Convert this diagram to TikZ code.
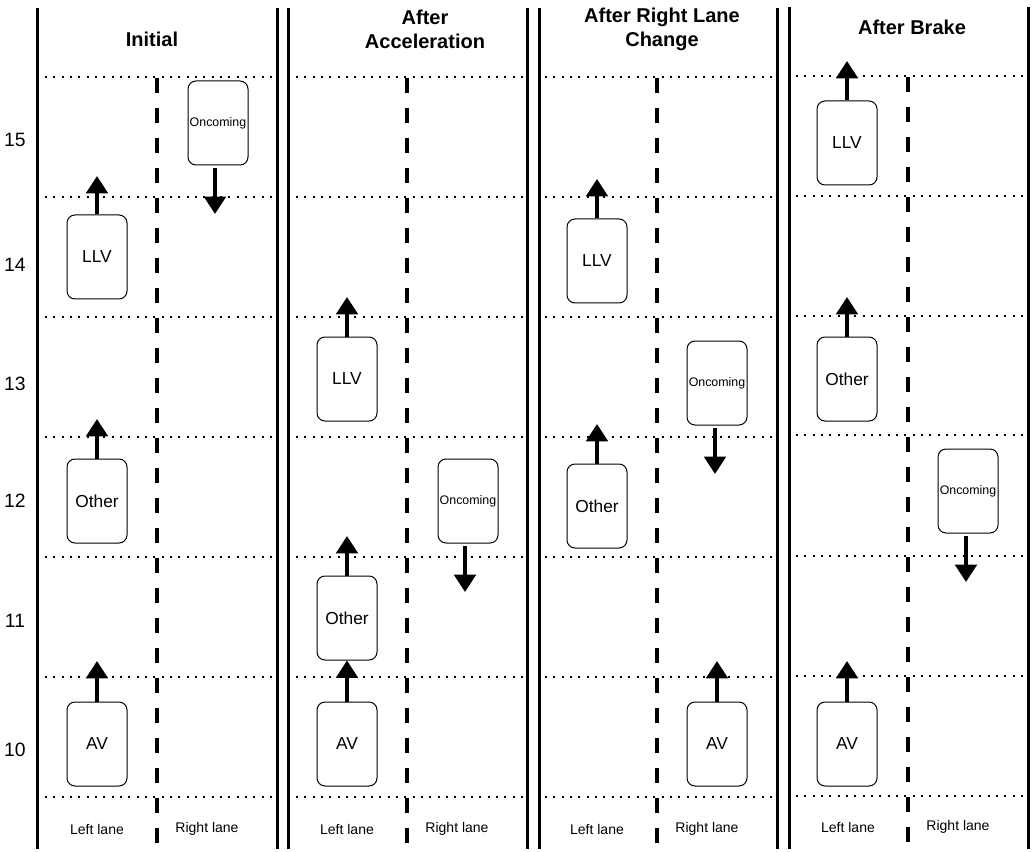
\documentclass[tikz,border=0pt]{standalone}
\usepackage{fontspec}
\setmainfont{Liberation Sans}
\usetikzlibrary{arrows.meta}

\tikzset{
  car/.style={draw,rounded corners=6pt,line width=0.75pt,minimum width=45pt,minimum height=63pt,inner sep=0pt,font=\fontsize{13}{15}\selectfont},
  oncar/.style={car,font=\fontsize{9.3}{10}\selectfont},
  go/.style={line width=3pt,-{Triangle[width=16pt,length=13pt]}},
  edge/.style={line width=2.25pt},
  divider/.style={line width=3pt,dash pattern=on 11.25pt off 11.25pt},
  cell/.style={line width=1.5pt,dash pattern=on 1.5pt off 4.75pt},
  heading/.style={font=\fontsize{15}{18}\selectfont\bfseries,align=center},
  lanename/.style={font=\fontsize{10.5}{12}\selectfont},
  row/.style={font=\fontsize{14.5}{16}\selectfont}
}

\begin{document}
\begin{tikzpicture}[x=0.75pt,y=-0.75pt]
        \useasboundingbox (0,0) rectangle (1035,852);

        % road borders
        \draw[edge] (37,8) -- (37,849);   \draw[edge] (277,8) -- (277,849);
        \draw[edge] (288,8) -- (288,849); \draw[edge] (527,8) -- (527,849);
        \draw[edge] (539,8) -- (539,849); \draw[edge] (777,8) -- (777,849);
        \draw[edge] (789,7) -- (789,849); \draw[edge] (1028,7) -- (1028,849);

        % cells
        \foreach \y in {77,197,317,437,557,677,797} {
          \draw[cell] (45,\y) -- (274,\y);
          \draw[cell] (296,\y) -- (524,\y);
          \draw[cell] (545,\y) -- (774,\y);
        }
        \foreach \y in {76,196,316,435,556,676,796}
          \draw[cell] (796,\y) -- (1024,\y);

        % lane dividers
        \draw[divider] (157,78) -- (157,849);
        \draw[divider] (407,78) -- (407,849);
        \draw[divider] (657,78) -- (657,849);
        \draw[divider] (908,77) -- (908,849);

        % row numbers
        \begin{scope}[every node/.style={row}]
          \node (r15) at (15,140) {15};
          \node (r14) at (15,265) {14};
          \node (r13) at (15,384) {13};
          \node (r12) at (15,501) {12};
          \node (r11) at (15,621) {11};
          \node (r10) at (15,750) {10};
        \end{scope}

        % headings
        \begin{scope}[every node/.style={heading}]
          \node (t1) at (152,39) {Initial};
          \node (t2) at (425,29) {After\\Acceleration};
          \node (t3) at (662,29) {After Right Lane\\Change};
          \node (t4) at (912,27) {After Brake};
        \end{scope}

        % lane names
        \begin{scope}[every node/.style={lanename}]
          \node (l1) at (97,829)  {Left lane};  \node (q1) at (207,829) {Right lane};
          \node (l2) at (347,829) {Left lane};  \node (q2) at (457,829) {Right lane};
          \node (l3) at (597,829) {Left lane};  \node (q3) at (707,829) {Right lane};
          \node (l4) at (848,827) {Left lane};  \node (q4) at (958,827) {Right lane};
        \end{scope}

        % initial
        \node[car]   (llv1)   at (97,257)  {LLV};
        \node[car]   (other1) at (97,501)  {Other};
        \node[car]   (av1)    at (97,744)  {AV};
        \node[oncar] (onc1)   at (218,123) {Oncoming};
        \coordinate (llv1tip)   at (97,176);
        \coordinate (other1tip) at (97,419);
        \coordinate (av1tip)    at (97,661);
        \coordinate (onc1tail)  at (215,168);
        \coordinate (onc1tip)   at (215,214);

        % after acceleration
        \node[car]   (llv2)   at (347,379) {LLV};
        \node[car]   (other2) at (347,618) {Other};
        \node[car]   (av2)    at (347,744) {AV};
        \node[oncar] (onc2)   at (468,501) {Oncoming};
        \coordinate (llv2tip)   at (347,297);
        \coordinate (other2tip) at (347,536);
        \coordinate (onc2tail)  at (465,546);
        \coordinate (onc2tip)   at (465,592);

        % after right lane change
        \node[car]   (llv3)   at (597,261) {LLV};
        \node[car]   (other3) at (597,506) {Other};
        \node[car]   (av3)    at (717,744) {AV};
        \node[oncar] (onc3)   at (717,383) {Oncoming};
        \coordinate (llv3tip)   at (597,179);
        \coordinate (other3tip) at (597,424);
        \coordinate (av3tip)    at (717,661);
        \coordinate (onc3tail)  at (715,428);
        \coordinate (onc3tip)   at (715,474);

        % after brake
        \node[car]   (llv4)   at (847,143) {LLV};
        \node[car]   (other4) at (847,379) {Other};
        \node[car]   (av4)    at (847,744) {AV};
        \node[oncar] (onc4)   at (968,491) {Oncoming};
        \coordinate (llv4tip)   at (847,61);
        \coordinate (other4tip) at (847,297);
        \coordinate (av4tip)    at (847,661);
        \coordinate (onc4tail)  at (966,536);
        \coordinate (onc4tip)   at (966,582);

        % motion
        \begin{scope}[every path/.style={go}]
          \draw (llv1.north) -- (llv1tip);
          \draw (other1.north) -- (other1tip);
          \draw (av1.north) -- (av1tip);
          \draw (onc1tail) -- (onc1tip);
          \draw (llv2.north) -- (llv2tip);
          \draw (other2.north) -- (other2tip);
          \draw (av2.north) -- (other2.south);
          \draw (onc2tail) -- (onc2tip);
          \draw (llv3.north) -- (llv3tip);
          \draw (other3.north) -- (other3tip);
          \draw (av3.north) -- (av3tip);
          \draw (onc3tail) -- (onc3tip);
          \draw (llv4.north) -- (llv4tip);
          \draw (other4.north) -- (other4tip);
          \draw (av4.north) -- (av4tip);
          \draw (onc4tail) -- (onc4tip);
        \end{scope}

      \end{tikzpicture}
\end{document}
